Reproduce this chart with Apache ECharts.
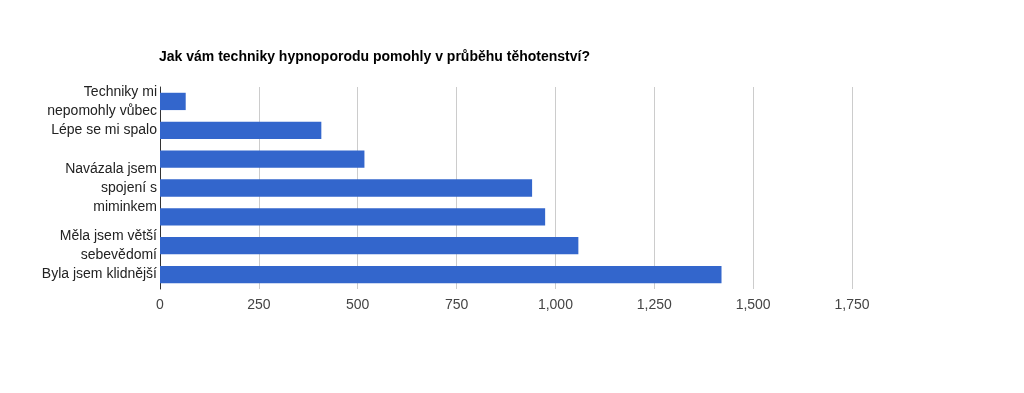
<!DOCTYPE html>
<html><head><meta charset="utf-8">
<script src="https://cdn.jsdelivr.net/npm/echarts@6/dist/echarts.min.js"></script>
<style>html,body{margin:0;padding:0;background:#fff}#c{width:1024px;height:393px}</style>
</head><body><div id="c"></div>
<script>
const title = 'Jak vám techniky hypnoporodu pomohly v průběhu těhotenství?';
const categories = [
  'Techniky mi\nnepomohly vůbec',
  'Lépe se mi spalo',
  '',
  'Navázala jsem\nspojení s\nmiminkem',
  '',
  'Měla jsem větší\nsebevědomí',
  'Byla jsem klidnější'
];
const values = [65, 408, 517, 941, 974, 1058, 1420];
const xTicks = {min: 0, max: 1750, interval: 250};

const chart = echarts.init(document.getElementById('c'), null, {renderer: 'canvas'});
chart.setOption({
  animation: false,
  title: {
    text: title, left: 154, top: 45,
    textStyle: {fontFamily: 'Liberation Sans, Arial', fontSize: 14, fontWeight: 'bold', color: '#000'}
  },
  grid: {left: 160, top: 87, width: 692, height: 202, containLabel: false},
  xAxis: {
    type: 'value', min: xTicks.min, max: xTicks.max, interval: xTicks.interval,
    axisLine: {show: false}, axisTick: {show: false},
    splitLine: {lineStyle: {color: '#cccccc', width: 1}},
    axisLabel: {
      margin: 9, color: '#444', fontFamily: 'Liberation Sans, Arial', fontSize: 14,
      formatter: v => v.toLocaleString('en-US')
    }
  },
  yAxis: {
    type: 'category', data: categories, inverse: true,
    axisLine: {show: true, lineStyle: {color: '#333', width: 1}},
    axisTick: {show: false},
    axisLabel: {
      interval: 0, margin: 3, color: '#222', fontFamily: 'Liberation Sans, Arial',
      fontSize: 14, lineHeight: 19, align: 'right'
    }
  },
  series: [{
    type: 'bar', data: values, barCategoryGap: '40%',
    itemStyle: {color: '#3366cc'}
  }]
});
</script></body></html>
